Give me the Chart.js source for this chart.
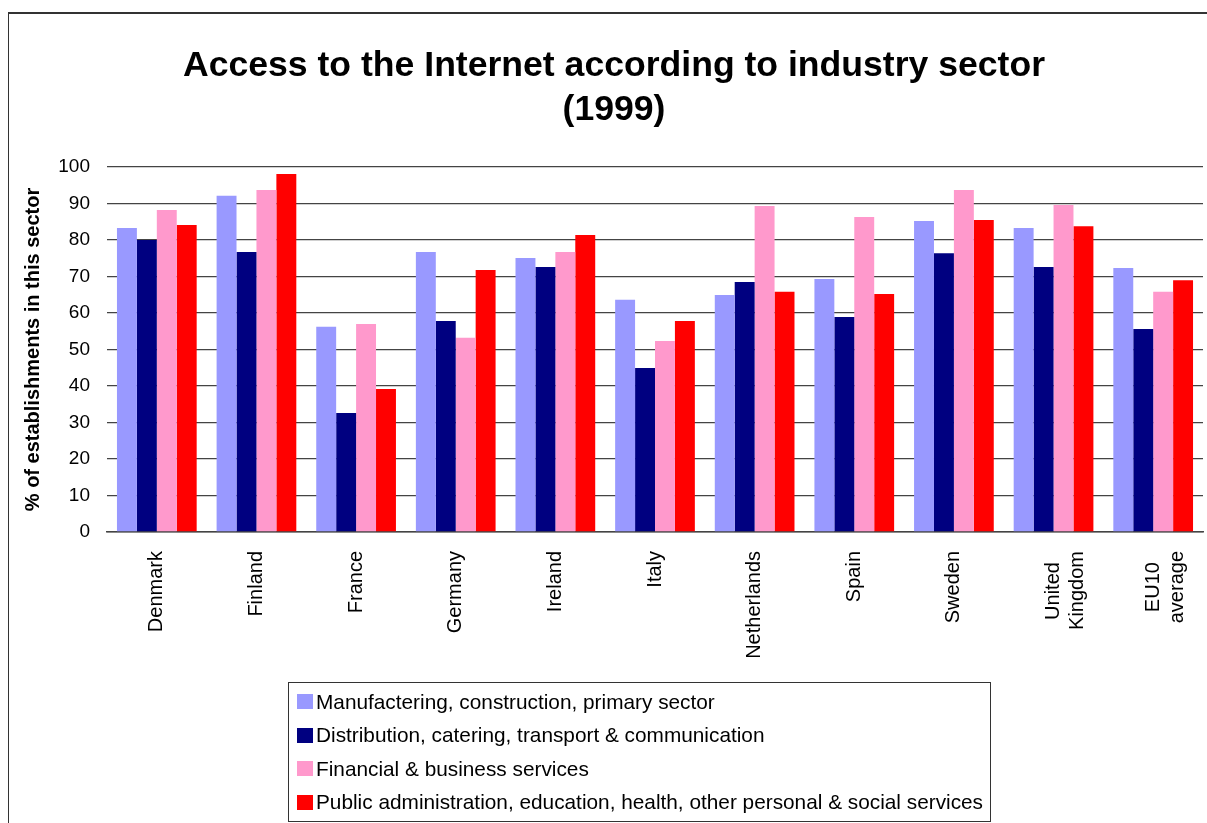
<!DOCTYPE html>
<html>
<head>
<meta charset="utf-8">
<title>Access to the Internet according to industry sector (1999)</title>
<script src="https://cdn.jsdelivr.net/npm/chart.js@4.4.1/dist/chart.umd.min.js"></script>
<style>
  body { margin: 0; background: #fff; font-family: 'Liberation Sans', Arial, sans-serif; }
  #frame { position: absolute; left: 8px; top: 12px; width: 1230px; height: 830px; border-top: 2px solid #333; border-left: 1px solid #333; }
  #chartBox { position: absolute; left: 0; top: 0; width: 1211px; height: 810px; }
  #legend { position: absolute; left: 288px; top: 682px; width: 703px; height: 140px; border: 1px solid #333; box-sizing: border-box; padding-top: 2px; }
  .item { display: flex; align-items: center; height: 33.5px; padding-left: 8px; font-size: 20.8px; color: #000; white-space: nowrap; }
  .swatch { width: 16px; height: 15px; margin-right: 3px; flex: none; }
</style>
</head>
<body>
<div id="frame">
  <div id="chartBox"><canvas id="sectors"></canvas></div>
</div>
<div id="legend"></div>
<script>
const countries = ['Denmark', 'Finland', 'France', 'Germany', 'Ireland', 'Italy',
  'Netherlands', 'Spain', 'Sweden', ['United  ', 'Kingdom'], ['EU10  ', 'average']];

const manufacturing = [83.3, 92.1, 56.2, 76.7, 75.1, 63.6, 64.9, 69.3, 85.2, 83.3, 72.3];
const distribution  = [80.0, 76.7, 32.6, 57.8, 72.6, 44.9, 68.5, 58.9, 76.4, 72.6, 55.6];
const financial     = [88.2, 93.7, 57.0, 53.2, 76.7, 52.3, 89.3, 86.3, 93.7, 89.6, 65.8];
const publicSector  = [84.1, 98.1, 39.2, 71.8, 81.4, 57.8, 65.8, 65.2, 85.5, 83.8, 69.0];

const sectorNames = [
  'Manufactering, construction, primary sector',
  'Distribution, catering, transport & communication',
  'Financial & business services',
  'Public administration, education, health, other personal & social services'
];
const sectorColors = ['#9999FF', '#000080', '#FF99CC', '#FF0000'];
const series = [manufacturing, distribution, financial, publicSector];

const font = "'Liberation Sans', Arial, sans-serif";

const chart = new Chart(document.getElementById('sectors'), {
  type: 'bar',
  data: {
    labels: countries,
    datasets: series.map((values, i) => ({
      label: sectorNames[i],
      data: values,
      backgroundColor: sectorColors[i],
      borderWidth: 0,
      barPercentage: 1,
      categoryPercentage: 0.8
    }))
  },
  options: {
    responsive: true,
    maintainAspectRatio: false,
    animation: false,
    layout: { padding: { top: 0, right: 17, bottom: 0, left: 16 } },
    plugins: {
      legend: { display: false },
      tooltip: { enabled: false },
      title: {
        display: true,
        text: ['Access to the Internet according to industry sector', '(1999)'],
        color: '#000',
        font: { family: font, size: 35.6, weight: 'bold', lineHeight: 1.236 },
        padding: { top: 30, bottom: 35 }
      }
    },
    scales: {
      x: {
        grid: { display: false },
        border: { display: true, color: '#444', width: 1.5 },
        ticks: {
          autoSkip: false,
          minRotation: 90,
          maxRotation: 90,
          padding: 11,
          color: '#000',
          font: { family: font, size: 20 }
        },
        afterFit: (scale) => { scale.height = 292; }
      },
      y: {
        min: 0,
        max: 100,
        border: { display: false },
        grid: { color: '#444', lineWidth: 1.3, drawTicks: false },
        ticks: {
          stepSize: 10,
          padding: 17,
          color: '#000',
          font: { family: font, size: 19 }
        },
        title: {
          display: true,
          text: '% of establishments in this sector',
          color: '#000',
          font: { family: font, size: 20, weight: 'bold' },
          padding: { top: -4, bottom: 0 }
        },
        afterFit: (scale) => { scale.width = 82; }
      }
    }
  }
});

// legend box under the plot, one sector per row
const legendBox = document.getElementById('legend');
chart.data.datasets.forEach((ds) => {
  const row = document.createElement('div');
  row.className = 'item';
  const sw = document.createElement('span');
  sw.className = 'swatch';
  sw.style.background = ds.backgroundColor;
  const txt = document.createElement('span');
  txt.textContent = ds.label;
  row.appendChild(sw);
  row.appendChild(txt);
  legendBox.appendChild(row);
});
</script>
</body>
</html>
